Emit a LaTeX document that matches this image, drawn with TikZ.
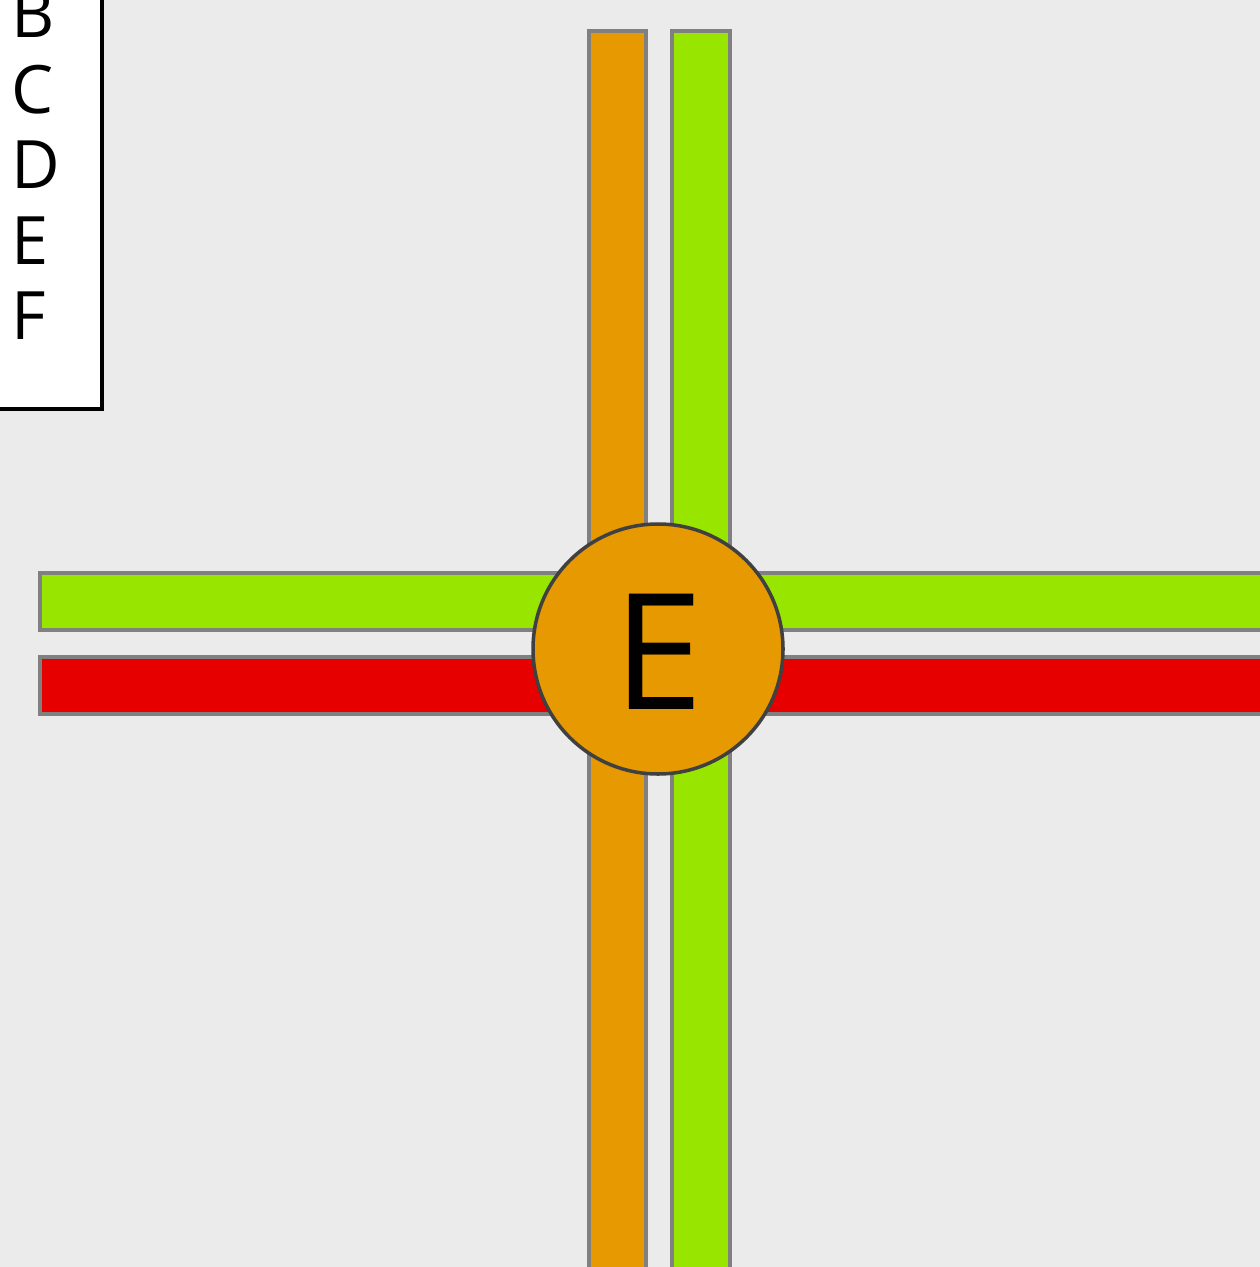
\documentclass[tikz,border=0pt]{standalone}
\usepackage{fontspec}
\setmainfont{Open Sans}
\definecolor{bg}{RGB}{235,235,235}
\definecolor{barorange}{RGB}{230,153,0}
\definecolor{bargreen}{RGB}{152,230,0}
\definecolor{barred}{RGB}{230,0,0}
\definecolor{barline}{RGB}{128,128,128}
\definecolor{circline}{RGB}{64,64,64}
\begin{document}
\begin{tikzpicture}[x=0.02cm,y=-0.02cm,
  bar/.style={draw=barline,line width=2pt},
  hub/.style={circle,draw=circline,line width=2pt,fill=barorange,minimum size=250*0.02cm,inner sep=0pt},
  legendtxt/.style={anchor=base west,inner sep=0pt,font=\fontsize{38}{38}\selectfont},
  bigtxt/.style={inner sep=0pt,font=\fontsize{92}{92}\selectfont}]
\useasboundingbox (0,0) rectangle (1260,1267);
\clip (0,0) rectangle (1260,1267);
\fill[bg] (0,0) rectangle (1260,1267);
% vertical bars
\draw[bar,fill=barorange] (589,31) rectangle (646,1300);
\draw[bar,fill=bargreen] (672,31) rectangle (730,1300);
% horizontal bars
\draw[bar,fill=bargreen] (40,573) rectangle (1300,630);
\draw[bar,fill=barred] (40,657) rectangle (1300,714);
% hub
\node[hub] (hub) at (658,649) {};
\node[bigtxt] (hubtxt) at (658,652) {E};
% legend
\draw[black,fill=white,line width=1.8pt] (-10,-10) rectangle (102,409);
\node[legendtxt] (lb) at (11,38) {B};
\node[legendtxt] (lc) at (11,114) {C};
\node[legendtxt] (ld) at (11,189) {D};
\node[legendtxt] (le) at (11,264) {E};
\node[legendtxt] (lf) at (11,339) {F};
\end{tikzpicture}
\end{document}
